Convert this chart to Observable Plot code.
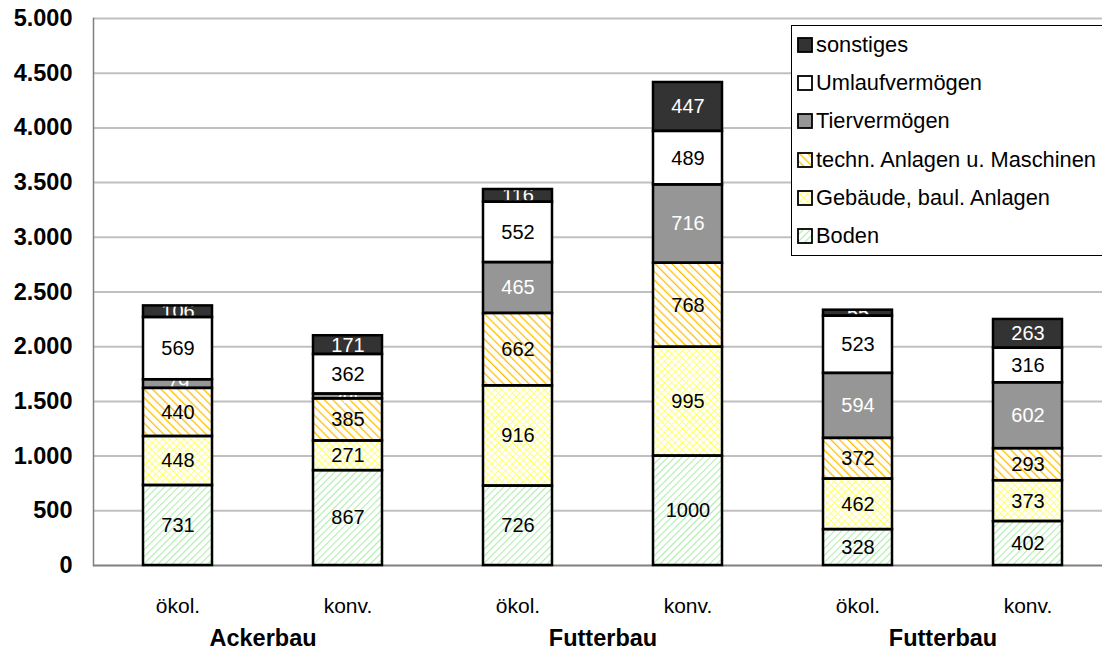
<!DOCTYPE html>
<html><head><meta charset="utf-8">
<script src="https://cdn.jsdelivr.net/npm/d3@7"></script>
<script src="https://cdn.jsdelivr.net/npm/@observablehq/plot@0.6"></script>
<style>
body{margin:0;background:#fff;font-family:"Liberation Sans",Arial,sans-serif;}
#wrap{position:relative;width:1102px;height:651px;overflow:hidden;}
#legend{position:absolute;left:791px;top:25px;width:340px;height:231px;border:1px solid #000;background:#fff;box-sizing:border-box;}
.row{position:absolute;left:5px;height:24px;display:flex;align-items:center;font-size:21.8px;color:#000;white-space:nowrap;}
.row svg{margin-right:3px;}
</style></head>
<body>
<svg width="0" height="0" style="position:absolute">
  <defs>
    <pattern id="pBoden" patternUnits="userSpaceOnUse" width="5" height="5" patternTransform="rotate(45)">
      <rect width="5" height="5" fill="#fff"/>
      <line x1="0" y1="0" x2="0" y2="5" stroke="#b0ecb0" stroke-width="2.2"/>
    </pattern>
    <pattern id="pGeb" patternUnits="userSpaceOnUse" width="5" height="5" patternTransform="rotate(45)">
      <rect width="5" height="5" fill="#fff"/>
      <line x1="0" y1="0" x2="0" y2="5" stroke="#ffff00" stroke-width="1.4" stroke-dasharray="1.8 0.7"/>
      <line x1="0" y1="0" x2="5" y2="0" stroke="#ffff00" stroke-width="1.4" stroke-dasharray="1.8 0.7"/>
    </pattern>
    <pattern id="pTech" patternUnits="userSpaceOnUse" width="6" height="6" patternTransform="rotate(-45)">
      <rect width="6" height="6" fill="#fff"/>
      <line x1="0" y1="0" x2="0" y2="6" stroke="#ffc000" stroke-width="2.6"/>
    </pattern>
  </defs>
</svg>
<div id="wrap"><div id="chart"></div><div id="legend"></div></div>
<script>
const groups = ["Ackerbau", "Futterbau", "Futterbau"];
const systems = ["ökol.", "konv."];
const categories = ["Boden", "Gebäude, baul. Anlagen", "techn. Anlagen u. Maschinen", "Tiervermögen", "Umlaufvermögen", "sonstiges"];
const boden     = [731, 867, 726, 1000, 328, 402];
const gebaeude  = [448, 271, 916, 995, 462, 373];
const techn     = [440, 385, 662, 768, 372, 293];
const tier      = [79, 44, 465, 716, 594, 602];
const umlauf    = [569, 362, 552, 489, 523, 316];
const sonstiges = [106, 171, 116, 447, 55, 263];
const yTicks = [0, 500, 1000, 1500, 2000, 2500, 3000, 3500, 4000, 4500, 5000];

const fills = ["url(#pBoden)", "url(#pGeb)", "url(#pTech)", "#969696", "#ffffff", "#333333"];
const darkCats = new Set(["Tiervermögen", "sonstiges"]);
const series = [boden, gebaeude, techn, tier, umlauf, sonstiges];
const bars = d3.range(6);
const data = categories.flatMap((c, i) => series[i].map((v, j) => ({bar: j, cat: c, value: v})));

const de = d3.formatLocale({decimal: ",", thousands: ".", grouping: [3], currency: ["", "€"]});
const fmt = de.format(",");

const chart = Plot.plot({
  width: 1102, height: 651,
  marginLeft: 93, marginRight: 0, marginTop: 18, marginBottom: 86,
  style: {fontFamily: "Liberation Sans, Arial, sans-serif", fontSize: "21px", color: "#000", background: "#fff"},
  x: {domain: bars, range: [93, 1111], paddingInner: 0.595, paddingOuter: 0.28, label: null},
  y: {domain: [0, 5000], label: null},
  color: {domain: categories, range: fills},
  marks: [
    Plot.ruleY(yTicks.slice(1), {stroke: "#c0c0c0", strokeWidth: 2}),
    Plot.ruleY([0], {stroke: "#808080", strokeWidth: 2}),
    Plot.frame({anchor: "left", stroke: "#808080", strokeWidth: 1.5}),
    Plot.barY(data, {x: "bar", y: "value", fill: "cat"}),
    Plot.text(data, Plot.stackY({x: "bar", y: "value", text: d => String(d.value),
      fill: d => darkCats.has(d.cat) ? "white" : "black", fontSize: 20})),
    Plot.barY(data, {x: "bar", y: "value", fill: "none", stroke: "black", strokeWidth: 2.5}),
    Plot.axisY({ticks: yTicks, tickFormat: fmt, tickSize: 0, tickPadding: 21, fontSize: 23.5, fontWeight: "bold", label: null}),
    Plot.axisX({tickSize: 0, tickPadding: 33, fontSize: 21, tickFormat: i => systems[i % 2], label: null}),
    Plot.text([0, 1, 2], {x: d => d * 2, text: d => groups[d], frameAnchor: "bottom", dx: 85, dy: 80,
      fontSize: 23.5, fontWeight: "bold"})
  ]
});
document.getElementById("chart").appendChild(chart);

const legend = document.getElementById("legend");
const order = [5, 4, 3, 2, 1, 0];
const rowsY = [7, 45, 83, 122, 160, 198];
order.forEach((ci, k) => {
  const row = document.createElement("div");
  row.className = "row";
  row.style.top = rowsY[k] + "px";
  row.innerHTML = `<svg width="16" height="16"><rect x="1" y="1" width="14" height="14" fill="${fills[ci]}" stroke="#000" stroke-width="1.8"/></svg><span>${categories[ci]}</span>`;
  legend.appendChild(row);
});
</script>
</body></html>
